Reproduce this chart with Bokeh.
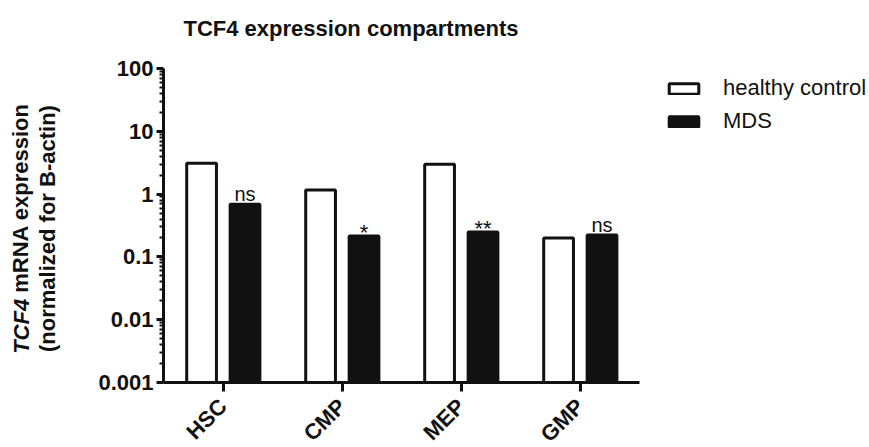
import math
from bokeh.plotting import figure
from bokeh.models import (FactorRange, Range1d, FixedTicker, Title, Legend,
                          LegendItem, ColumnDataSource)
from bokeh.core.properties import value
from bokeh.transform import dodge
from bokeh.embed import file_html
from bokeh.resources import INLINE

# ---- data ----
categories = ["HSC", "CMP", "MEP", "GMP"]
healthy_control = [3.1, 1.16, 2.98, 0.20]
mds = [0.69, 0.215, 0.249, 0.223]
significance = ["ns", "*", "**", "ns"]
y_ticks = [0.001, 0.01, 0.1, 1, 10, 100]
y_tick_labels = ["0.001", "0.01", "0.1", "1", "10", "100"]
title_text = "TCF4 expression compartments"
y_title_gene = "TCF4"
y_title_rest = "mRNA expression"
y_title_2 = "(normalized for  B-actin)"
series_names = ["healthy control", "MDS"]

FONT = "Liberation Sans"
INK = "#111111"

minor = [m * 10.0 ** k for k in range(-3, 2) for m in range(2, 10)]

src = ColumnDataSource(dict(cat=categories, hc=healthy_control, mds=mds,
                            sig=significance,
                            off=[-10.0 if s == "ns" else -4.0 for s in significance],
                            fs=["20px" if s == "ns" else "22px" for s in significance]))

p = figure(x_range=FactorRange(factors=categories), y_range=Range1d(0.001, 100),
           y_axis_type="log", output_backend="svg", toolbar_location=None,
           frame_width=476, frame_height=314,
           min_border_left=163, min_border_right=214,
           min_border_top=68, min_border_bottom=57)
p.outline_line_color = None
p.grid.visible = False
p.background_fill_color = "white"
p.border_fill_color = "white"

r1 = p.vbar(x=dodge("cat", -0.18, range=p.x_range), top="hc", bottom=0.001, width=0.25,
            source=src, fill_color="white", line_color=INK, line_width=3)
r2 = p.vbar(x=dodge("cat", 0.185, range=p.x_range), top="mds", bottom=0.001, width=0.25,
            source=src, fill_color=INK, line_color=INK, line_width=3)

p.text(x=dodge("cat", 0.185, range=p.x_range), y="mds", text="sig", source=src,
       y_offset="off", text_align="center", text_baseline="alphabetic",
       text_font=value(FONT), text_font_size="fs", text_color=INK)

# axes
for ax in (p.xaxis[0], p.yaxis[0]):
    ax.axis_line_width = 3
    ax.axis_line_color = INK
    ax.major_tick_line_width = 3
    ax.major_tick_line_color = INK
    ax.major_tick_in = 0
    ax.major_label_text_font = FONT
    ax.major_label_text_font_style = "bold"
    ax.major_label_text_font_size = "22px"
    ax.major_label_text_color = INK

yax = p.yaxis[0]
yax.ticker = FixedTicker(ticks=y_ticks, minor_ticks=minor)
yax.major_label_overrides = {t: l for t, l in zip(y_ticks, y_tick_labels)}
yax.major_tick_out = 7
yax.minor_tick_out = 4
yax.minor_tick_in = 0
yax.minor_tick_line_width = 2
yax.minor_tick_line_color = INK
yax.major_label_standoff = 3
yax.axis_label = y_title_2
yax.axis_label_standoff = 35
yax.axis_label_text_font = FONT
yax.axis_label_text_font_style = "bold"
yax.axis_label_text_font_size = "22px"
yax.axis_label_text_color = INK

xax = p.xaxis[0]
xax.major_tick_out = 9
xax.major_label_orientation = math.pi / 4
xax.major_label_standoff = 11

# real title in the default slot (outer) + a thin spacer between it and the frame
p.title.text = title_text
p.title.align = "left"
p.title.offset = 20
p.title.standoff = 30
p.title.vertical_align = "top"
p.title.text_font = FONT
p.title.text_font_style = "bold"
p.title.text_font_size = "22px"
p.title.text_color = INK
p.add_layout(Title(text=" ", text_font_size="1px", standoff=8), "above")

# outer line of the y axis title: italic gene name + rest, sharing one column
fs = 22
w_gene = 2.500 * fs
w_rest = 8.891 * fs
w_space = 0.278 * fs
start = 157 - (w_gene + w_space + w_rest) / 2
p.add_layout(Title(text=" ", text_font_size="1px", standoff=8.5), "left")
p.add_layout(Title(text=y_title_gene, align="left", offset=start, standoff=-26,
                   text_font=FONT, text_font_style="bold italic",
                   text_font_size="22px", text_color=INK), "left")
p.add_layout(Title(text=y_title_rest, align="left", offset=start + w_gene + w_space,
                   standoff=-26, text_font=FONT, text_font_style="bold",
                   text_font_size="22px", text_color=INK), "left")

legend = Legend(items=[LegendItem(label=series_names[0], renderers=[r1]),
                       LegendItem(label=series_names[1], renderers=[r2])],
                location=(26, 248), padding=0, margin=0, border_line_color=None,
                background_fill_alpha=0, glyph_width=37, glyph_height=13,
                label_height=13, spacing=7, label_standoff=21,
                label_text_font=FONT, label_text_font_size="22px", label_text_color=INK)
p.add_layout(legend, "right")

open("out.html", "w").write(file_html(p, INLINE))
